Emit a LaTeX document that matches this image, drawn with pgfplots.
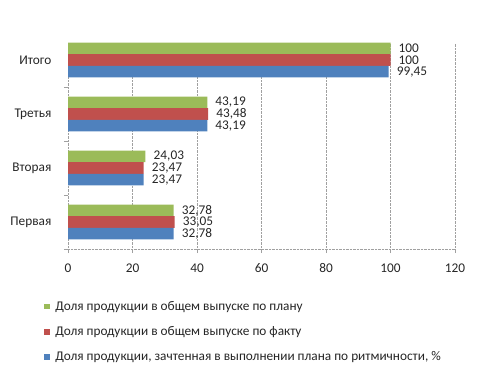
\documentclass[border=0pt]{standalone}
\usepackage{fontspec}
\setmainfont{Carlito}
\usepackage{pgfplots}
\pgfplotsset{compat=1.18}
\definecolor{cgreen}{HTML}{9BBB59}
\definecolor{cred}{HTML}{C0504D}
\definecolor{cblue}{HTML}{4F81BD}
\definecolor{gridc}{HTML}{A0A0A0}
\definecolor{txt}{HTML}{262626}
\begin{document}
\fontsize{13.3bp}{16bp}\selectfont
\begin{tikzpicture}
\path[use as bounding box] (0,0) rectangle (480bp,373bp);
\begin{axis}[
  at={(68bp,124bp)}, anchor=south west,
  scale only axis, width=387bp, height=206bp,
  xbar, bar width=11.6bp,
  xmin=0, xmax=120, xtick={0,20,...,120},
  ymin=-0.5, ymax=3.315,
  ytick={0,1,2,3}, yticklabels={Первая,Вторая,Третья,Итого},
  minor ytick={-0.5,0.5,1.5,2.5},
  ytick style={draw=none},
  minor y tick style={draw=gridc},
  minor tick length=4bp,
  major tick length=4bp,
  tick align=outside,
  xtick style={draw=gridc},
  axis x line*=bottom, axis y line*=left,
  axis line style={draw=gridc, densely dotted, -},
  xmajorgrids, grid style={draw=gridc, densely dotted},
  ticklabel style={text=txt},
  yticklabel style={xshift=-8bp},
  xticklabel style={yshift=-6bp},
  /pgf/number format/.cd, use comma, fixed, precision=2, 1000 sep={}, assume math mode=true,
  /pgfplots/.cd,
  point meta=x,
  nodes near coords,
  every node near coord/.append style={anchor=west, inner sep=0pt, xshift=8bp, text=txt},
  legend style={at={(axis description cs:-0.062,-0.245)}, anchor=north west,
    draw=none, fill=none, inner sep=0pt, row sep=11bp, column sep=4bp, text=txt,
    nodes={inner sep=1.5bp}},
  legend cell align=left,
  legend image code/.code={\fill[#1] (0bp,-2.8bp) rectangle (5.6bp,2.8bp);},
]
\addplot[fill=cgreen, draw=none, bar shift=11.6bp] coordinates {(32.78,0) (24.03,1) (43.19,2) (100,3)};
\addplot[fill=cred, draw=none, bar shift=0bp] coordinates {(33.05,0) (23.47,1) (43.48,2) (100,3)};
\addplot[fill=cblue, draw=none, bar shift=-11.6bp] coordinates {(32.78,0) (23.47,1) (43.19,2) (99.45,3)};
\legend{Доля продукции в общем выпуске по плану,Доля продукции в общем выпуске по факту,{Доля продукции, зачтенная в выполнении плана по ритмичности, \%}}
\end{axis}
\end{tikzpicture}
\end{document}
